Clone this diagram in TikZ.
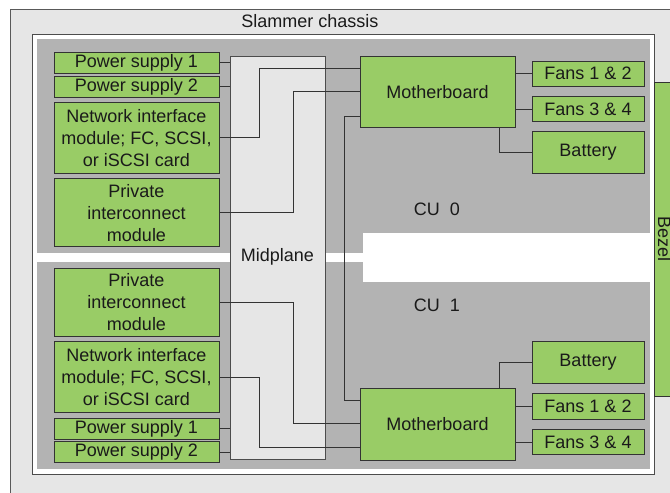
\documentclass[tikz,border=0pt]{standalone}
\usepackage{fontspec}
\setmainfont{Liberation Sans}
\definecolor{chassis}{HTML}{E6E6E6}
\definecolor{cugray}{HTML}{B3B3B3}
\definecolor{boxgreen}{HTML}{99CC66}
\definecolor{edge}{HTML}{333333}
\definecolor{txt}{HTML}{1A1A1A}
\tikzset{
  box/.style={draw=edge, fill=boxgreen, line width=1pt, inner sep=0pt, align=center,
    text=txt, font=\fontsize{18}{22}\selectfont},
  wire/.style={draw=edge, line width=1pt},
  lbl/.style={text=txt, font=\fontsize{18}{22}\selectfont, inner sep=0pt}
}
\begin{document}
\begin{tikzpicture}[x=1pt,y=-1pt]
\useasboundingbox (0,0) rectangle (670,493);
\clip (0,0) rectangle (670,493);
% chassis
\draw[fill=chassis, draw=black!65, line width=1pt] (10,9) rectangle (720,540);
\node[lbl] (chlabel) at (310,21) {Slammer chassis};
% inner rectangle
\draw[fill=white, draw=black!70, line width=0.9pt] (32.5,34.3) rectangle (654,474.3);
\fill[cugray] (37,39) rectangle (650,469.3);
\fill[white] (37,253.3) rectangle (362.7,261.7);
\fill[white] (362.7,233.3) rectangle (650,281.7);
% bezel
\draw[fill=boxgreen, draw=edge, line width=1pt] (654,82.3) rectangle (700,396);
\node[lbl, rotate=-90] (bezel) at (664.5,239) {Bezel};
% midplane
\node[draw=black!70, fill=chassis, line width=1pt, minimum width=95pt, minimum height=403pt, inner sep=0pt] (mid) at (277.5,257.5) {};
\node[lbl, fill=chassis, inner sep=2pt] (midlabel) at (277.5,257) {Midplane};
% CU labels
\node[lbl] (cu0) at (437,209) {CU\ \ 0};
\node[lbl] (cu1) at (437,305) {CU\ \ 1};
% left boxes, CU 0
\node[box, minimum width=165pt, minimum height=21pt] (ps1a) at (136.5,62.5) {Power supply 1};
\node[box, minimum width=165pt, minimum height=21pt] (ps2a) at (136.5,86.7) {Power supply 2};
\node[box, minimum width=165pt, minimum height=71pt] (nica) at (136.5,137.8) {Network interface\\module; FC, SCSI,\\or iSCSI card};
\node[box, minimum width=165pt, minimum height=68pt] (pima) at (136.5,212.8) {Private\\interconnect\\module};
% left boxes, CU 1
\node[box, minimum width=165pt, minimum height=68pt] (pimb) at (136.5,302.5) {Private\\interconnect\\module};
\node[box, minimum width=165pt, minimum height=71pt] (nicb) at (136.5,377.2) {Network interface\\module; FC, SCSI,\\or iSCSI card};
\node[box, minimum width=165pt, minimum height=21pt] (ps1b) at (136.5,428.8) {Power supply 1};
\node[box, minimum width=165pt, minimum height=21pt] (ps2b) at (136.5,452.2) {Power supply 2};
% motherboards
\node[box, minimum width=155pt, minimum height=71pt] (mba) at (437.5,91.7) {Motherboard};
\node[box, minimum width=155pt, minimum height=72pt] (mbb) at (437.5,424.2) {Motherboard};
% right boxes CU 0
\node[box, minimum width=112pt, minimum height=25.5pt] (f12a) at (588,73.8) {Fans 1 \& 2};
\node[box, minimum width=112pt, minimum height=25pt] (f34a) at (588,109.2) {Fans 3 \& 4};
\node[box, minimum width=112pt, minimum height=41.5pt] (bata) at (588,152.5) {Battery};
% right boxes CU 1
\node[box, minimum width=112pt, minimum height=41.5pt] (batb) at (588,362.5) {Battery};
\node[box, minimum width=112pt, minimum height=26pt] (f12b) at (588,406.3) {Fans 1 \& 2};
\node[box, minimum width=112pt, minimum height=25.5pt] (f34b) at (588,442.2) {Fans 3 \& 4};
% bend points
\coordinate (ja) at (259,68);
\coordinate (ka) at (293,91.5);
\coordinate (jb) at (259,447);
\coordinate (kb) at (293,423.5);
\coordinate (m1) at (344,116);
\coordinate (m2) at (344,400);
\coordinate (bx) at (499,0);
% power stubs
\draw[wire] (ps1a.east) -- (ps1a.east -| mid.west);
\draw[wire] (ps2a.east) -- (ps2a.east -| mid.west);
\draw[wire] (ps1b.east) -- (ps1b.east -| mid.west);
\draw[wire] (ps2b.east) -- (ps2b.east -| mid.west);
% NIC and PIM wires
\draw[wire] (nica.east) -| (ja) -- (ja -| mba.west);
\draw[wire] (pima.east) -| (ka) -- (ka -| mba.west);
\draw[wire] (nicb.east) -| (jb) -- (jb -| mbb.west);
\draw[wire] (pimb.east) -| (kb) -- (kb -| mbb.west);
% motherboard link
\draw[wire] (m1 -| mba.west) -- (m1) -- (m2) -- (m2 -| mbb.west);
% fans and batteries
\draw[wire] (f12a.west -| mba.east) -- (f12a.west);
\draw[wire] (f34a.west -| mba.east) -- (f34a.west);
\draw[wire] (bx |- mba.south) |- (bata.west);
\draw[wire] (f12b.west -| mbb.east) -- (f12b.west);
\draw[wire] (f34b.west -| mbb.east) -- (f34b.west);
\draw[wire] (bx |- mbb.north) |- (batb.west);
\end{tikzpicture}
\end{document}
